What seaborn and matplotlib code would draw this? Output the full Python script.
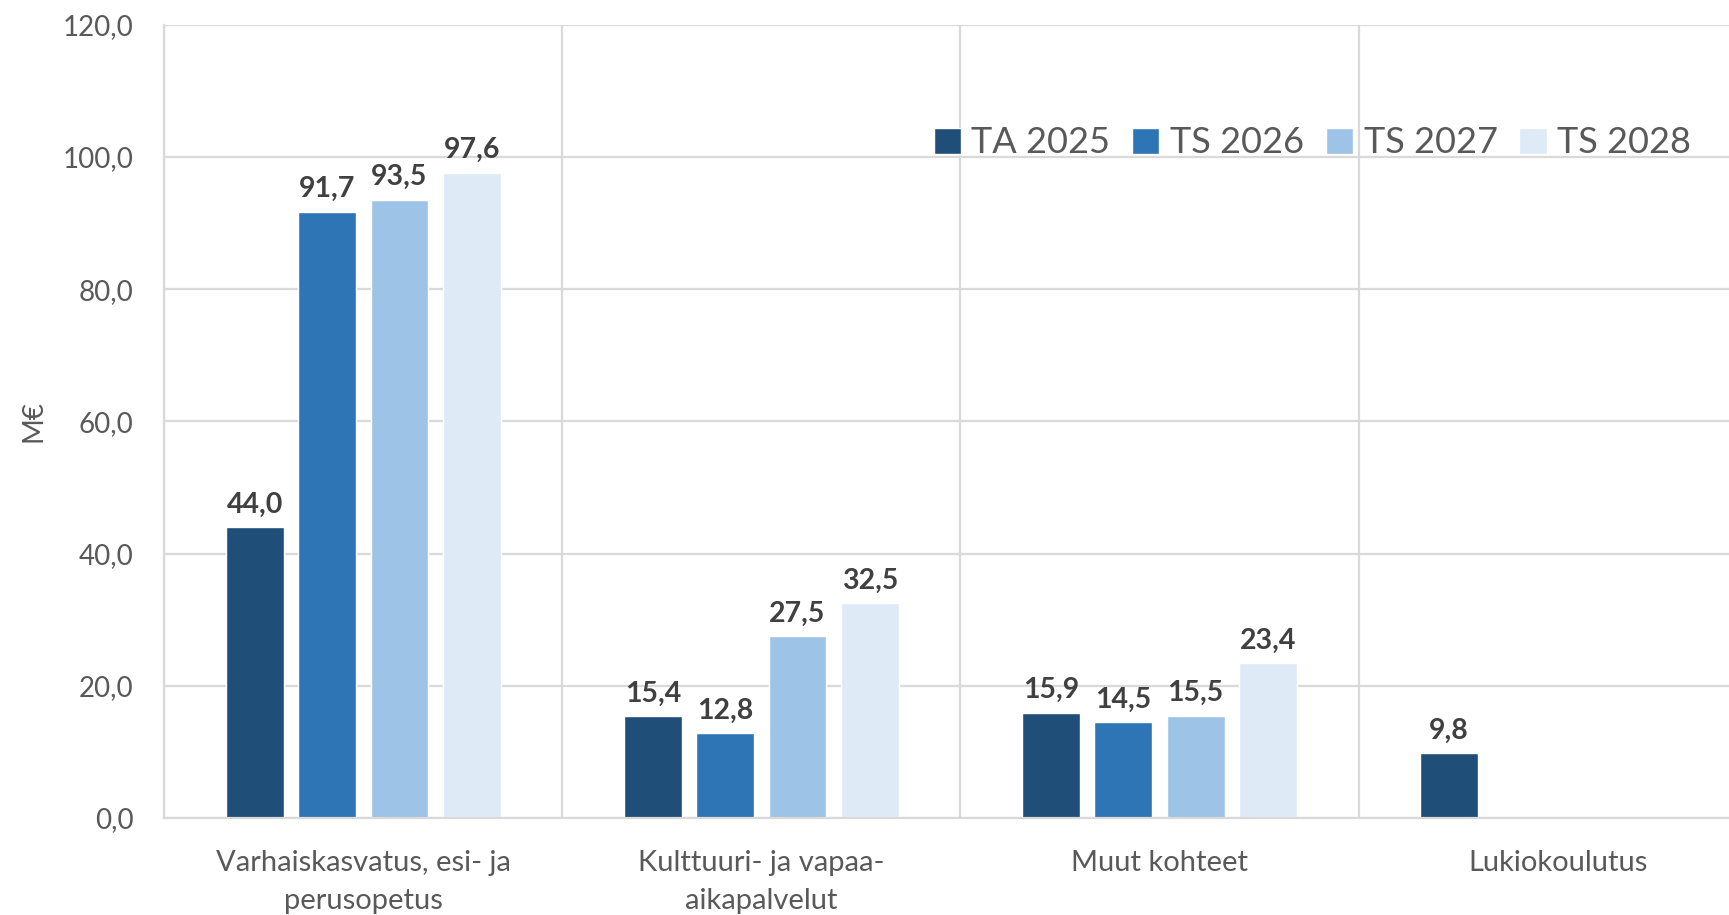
import numpy as np
import pandas as pd
import seaborn as sns
import matplotlib.pyplot as plt
from matplotlib.ticker import FuncFormatter, FixedLocator

categories = ["Varhaiskasvatus, esi- ja\nperusopetus", "Kulttuuri- ja vapaa-\naikapalvelut",
              "Muut kohteet", "Lukiokoulutus"]
series = ["TA 2025", "TS 2026", "TS 2027", "TS 2028"]
ta_2025 = [44.0, 15.4, 15.9, 9.8]
ts_2026 = [91.7, 12.8, 14.5, np.nan]
ts_2027 = [93.5, 27.5, 15.5, np.nan]
ts_2028 = [97.6, 32.5, 23.4, np.nan]
colors = ["#1F4E79", "#2E75B6", "#9DC3E6", "#DEEBF7"]

rows = []
for name, vals in zip(series, [ta_2025, ts_2026, ts_2027, ts_2028]):
    for cat, v in zip(categories, vals):
        rows.append({"kohde": cat, "vuosi": name, "arvo": v})
df = pd.DataFrame(rows)

sns.set_theme(style="white")
plt.rcParams['font.family'] = ['Lato', 'DejaVu Sans']

fig = plt.figure(figsize=(17.29, 9.15), dpi=100)
ax = fig.add_axes([0.095, 0.106, 0.921, 0.867])

sns.barplot(data=df, x="kohde", y="arvo", hue="vuosi", order=categories,
            hue_order=series, palette=colors, width=0.726, gap=0.2,
            saturation=1, ax=ax, errorbar=None)

# arvot palkkien päälle
for cont in ax.containers:
    labels = [f"{b.get_height():.1f}".replace('.', ',') if np.isfinite(b.get_height()) else ""
              for b in cont]
    ax.bar_label(cont, labels=labels, padding=7, fontsize=20.5, fontweight='bold', color='#404040')

ax.set_ylim(0, 120)
ax.set_xlim(-0.5, 3.5)
ax.set_yticks(np.arange(0, 121, 20))
ax.yaxis.set_major_formatter(FuncFormatter(lambda v, p: f"{v:.1f}".replace('.', ',')))
ax.tick_params(axis='y', labelsize=20, labelcolor='#595959', length=0, pad=22)
ax.tick_params(axis='x', labelsize=21, labelcolor='#595959', length=0, pad=23)
for lab in ax.get_xticklabels():
    lab.set_linespacing(1.55)

ax.xaxis.set_minor_locator(FixedLocator([-0.5, 0.5, 1.5, 2.5, 3.5]))
ax.grid(axis='y', which='major', color='#D9D9D9', linewidth=1.6)
ax.grid(axis='x', which='minor', color='#D9D9D9', linewidth=1.6)
ax.tick_params(axis='x', which='minor', length=0)
ax.set_axisbelow(True)

for s in ['top', 'right']:
    ax.spines[s].set_visible(False)
for s in ['left', 'bottom']:
    ax.spines[s].set_color('#D9D9D9')
    ax.spines[s].set_linewidth(1.6)

ax.set_xlabel("")
ax.set_ylabel("M€", fontsize=20, color='#595959', labelpad=12)

ax.legend(loc='center', bbox_to_anchor=(0.721, 0.851), ncol=4, frameon=False,
          fontsize=26, labelcolor='#595959', handlelength=0.75, handleheight=0.75,
          handletextpad=0.3, columnspacing=0.6)

fig.savefig("out.png", dpi=100)
